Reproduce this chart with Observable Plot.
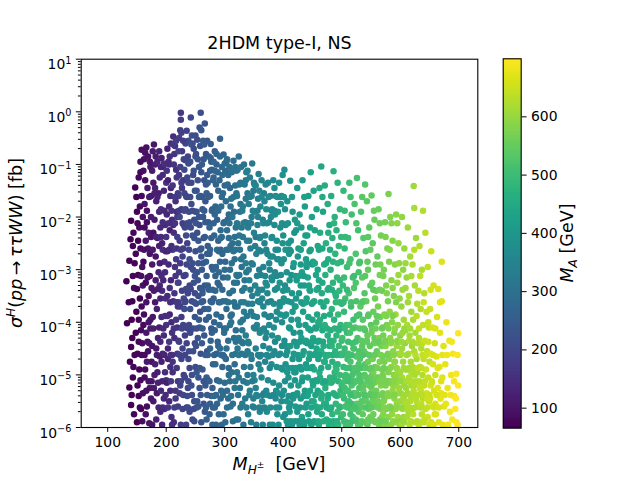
<!DOCTYPE html>
<html><head><meta charset="utf-8">
<script src="https://cdn.jsdelivr.net/npm/d3@7"></script>
<script src="https://cdn.jsdelivr.net/npm/@observablehq/plot@0.6"></script>
<style>
body{margin:0;background:#fff;}
#chart{position:relative;width:640px;height:480px;font-family:"DejaVu Sans",sans-serif;}
#chart svg{position:absolute;left:0;top:0;}
</style></head><body><div id="chart"></div>
<script>
// [M_H± (GeV), log10 σ (fb), M_A (GeV)]
const band1=[[140,-2.07,68],[137,-2.83,66],[132,-3.22,67],[133,-4.02,66],[140,-4.47,70],[137,-5.24,66],[140,-5.57,69],[143,-2.55,72],[142,-3.6,67],[144,-4.85,74],[141,-3.95,68],[144,-2.3,76],[143,-5.05,70],[145,-3.35,78],[142,-4.3,66],[145,-5.75,75],
[147,-1.44,69],[150,-1.9,66],[148,-2.7,77],[152,-3.1,71],[149,-3.8,66],[151,-4.6,80],[153,-5.4,73],[150,-5.9,67],[154,-2.2,83],[156,-1.15,75],[158,-0.72,87],[155,-3.55,69],[157,-4.15,84],[156,-5.1,76],[159,-2.95,91],[158,-1.6,80],[154,-4.9,72],[160,-3.3,95],[152,-2.45,68],[157,-5.65,85],[155,-1.8,78],[159,-4.4,89],[153,-3.95,74],[160,-2.0,93],[148,-4.2,66],[151,-5.2,70],[156,-2.6,82],[160,-5.35,88],[158,-3.7,81],
[162,-0.9,95],[164,-1.3,83],[166,-0.68,90],[163,-1.75,100],[167,-2.1,85],[165,-2.45,105],[161,-2.85,79],[168,-3.15,97],[170,-3.5,89],[162,-3.85,84],[166,-4.2,103],[169,-4.55,92],[164,-4.9,81],[172,-5.25,106],[167,-5.6,87],[171,-5.92,100],[173,-1.05,110],[174,-1.6,97],[170,-2.3,115],[172,-2.7,93],[175,-3.35,107],[173,-3.95,101],[171,-4.4,113],[175,-4.75,95],[174,-5.45,104],[163,-5.05,86],[168,-1.45,102],[165,-3.25,80],[169,-2.6,96],[161,-4.05,82],[166,-5.3,93],[174,-2.0,111],[172,-0.95,103],[163,-2.2,78],[170,-4.0,98],[167,-4.75,108],
[177,-0.75,113],[179,-0.62,105],[181,-1.0,120],[178,-1.35,103],[183,-1.7,125],[180,-2.05,111],[185,-2.4,117],[182,-2.75,100],[187,-3.05,130],[179,-3.4,109],[184,-3.75,123],[188,-4.1,114],[176,-4.45,97],[181,-4.8,118],[186,-5.15,127],[178,-5.5,104],[183,-5.85,121],[189,-1.25,135],[187,-1.55,113],[185,-0.95,132],[190,-2.2,140],[188,-2.55,116],[176,-2.9,110],[190,-3.55,133],[177,-3.9,101],[186,-4.3,124],[189,-4.65,112],[180,-5.0,122],[184,-5.35,106],[190,-5.7,137],[182,-3.2,115],[188,-1.9,128],[178,-2.3,95],[185,-4.95,119],[181,-1.45,124],[183,-4.5,107],[176,-5.95,102],[189,-3.3,131],
[192,-0.88,125],[194,-1.2,140],[196,-1.5,133],[191,-1.85,145],[198,-2.15,137],[193,-2.5,123],[197,-2.85,150],[195,-3.2,130],[199,-3.55,155],[192,-3.9,135],[196,-4.25,143],[194,-4.6,127],[198,-4.95,152],[191,-5.3,138],[197,-5.65,145],[193,-5.95,131],[200,-1.35,160],[199,-2.65,133],[195,-1.05,147],[200,-4.05,157],[192,-4.75,124],[198,-3.05,141],[194,-2.1,153],[196,-5.45,135],[200,-5.1,163],[193,-3.4,142]];
const band1x=[[136,-3.62,66],[138,-4.75,67],[139,-2.42,69],[141,-5.38,70],[143,-3.12,71],[146,-4.62,72],[146,-2.88,74],[149,-1.62,68],[150,-3.37,73],[151,-2.12,75],[153,-4.37,77],[153,-1.25,79],[155,-5.62,71],[156,-0.95,84],[157,-3.12,88],[158,-4.62,80],[159,-5.88,86],[161,-1.12,90],[162,-2.62,92],[163,-4.62,85],[164,-0.78,96],[165,-5.75,88],[166,-3.62,99],[167,-1.88,91],[168,-4.37,104],[169,-0.85,94],[170,-5.12,100],[171,-1.62,108],[172,-3.12,96],[173,-4.12,110],[174,-2.38,102],[175,-5.12,99],[176,-1.12,112],[177,-2.62,106],[178,-4.12,118],[179,-5.25,110],[180,-1.55,120],[181,-3.62,104],[182,-0.85,116],[183,-2.38,128],[184,-4.62,112],[185,-1.62,124],[186,-3.37,118],[187,-5.62,130],[188,-0.75,126],[189,-2.88,122],[190,-4.37,136],[191,-1.05,130],[192,-3.12,142],[193,-5.12,128],[194,-2.62,146],[195,-4.12,138],[196,-0.98,150],[197,-1.88,140],[198,-3.88,152],[199,-5.38,144],[200,-2.38,156],[197,-4.62,134],[194,-5.62,148],[191,-2.38,135]];
const band2=[[202,-0.7,125],[205,-1.0,138],[203,-1.3,120],[207,-1.6,145],[201,-1.95,130],[206,-2.25,118],[209,-2.55,150],[204,-2.9,135],[208,-3.2,128],[202,-3.5,142],[206,-3.85,123],[210,-4.2,155],[203,-4.5,132],[207,-4.85,146],[201,-5.15,121],[205,-5.5,139],[209,-5.8,152],[204,-0.95,143],[208,-1.45,132],[210,-2.05,148],[202,-2.65,126],[206,-3.35,154],[209,-4.0,137],[203,-4.7,129],[207,-5.3,141],[210,-5.95,158],[205,-1.8,136],[208,-0.6,140],
[212,-0.47,150],[214,-0.8,160],[217,-1.1,145],[211,-1.4,165],[216,-1.7,152],[219,-2.0,170],[213,-2.3,148],[218,-2.6,162],[215,-2.95,155],[220,-3.25,175],[212,-3.6,158],[217,-3.95,167],[214,-4.3,146],[219,-4.6,172],[211,-4.95,153],[216,-5.3,164],[220,-5.6,178],[213,-5.9,151],[218,-1.25,168],[215,-0.65,157],[220,-1.55,182],[212,-2.15,144],[217,-2.8,174],[214,-3.45,161],[219,-4.1,153],[211,-4.75,159],[216,-5.45,171],[218,-1.9,149],[213,-1.0,163],[220,-3.7,165],
[225,-0.02,170],[225,-0.15,175],[222,-0.5,180],[227,-0.75,165],[224,-1.05,188],[229,-1.3,172],[221,-1.6,185],[226,-1.85,178],[230,-2.15,195],[223,-2.45,168],[228,-2.75,190],[222,-3.05,174],[227,-3.4,186],[224,-3.7,179],[229,-4.05,198],[221,-4.35,171],[226,-4.7,192],[230,-5.0,182],[223,-5.35,176],[228,-5.65,196],[225,-5.95,184],[230,-0.9,200],[227,-1.45,174],[223,-2.0,192],[229,-2.6,180],[221,-3.25,190],[226,-3.9,172],[228,-4.5,187],[224,-5.2,194],[222,-1.2,167],[230,-3.55,202],[226,-0.4,181],
[235,-0.36,188],[233,-0.6,200],[237,-0.85,192],[231,-1.1,208],[238,-1.35,196],[234,-1.6,185],[239,-1.9,212],[232,-2.2,198],[236,-2.5,190],[240,-2.8,215],[233,-3.1,202],[237,-3.45,193],[231,-3.75,210],[239,-4.05,200],[235,-4.4,188],[238,-4.7,206],[232,-5.05,196],[236,-5.4,212],[240,-5.7,204],[234,-5.95,191],[238,-0.55,205],[231,-1.55,198],[240,-2.1,220],[235,-2.9,195],[233,-3.6,207],[239,-4.55,215],[236,-1.25,201],[232,-4.25,189],[237,-5.25,199],[234,-2.35,210],[240,-3.3,196],[233,-1.85,187],
[242,-0.11,200],[244,-0.45,212],[247,-0.7,205],[241,-0.95,218],[246,-1.2,208],[249,-1.5,222],[243,-1.75,210],[248,-2.05,204],[245,-2.35,225],[250,-2.65,215],[242,-2.95,206],[247,-3.25,220],[244,-3.6,211],[249,-3.9,228],[241,-4.2,203],[246,-4.55,218],[250,-4.85,209],[243,-5.2,224],[248,-5.5,213],[245,-5.85,207],[250,-0.85,230],[243,-1.35,204],[248,-2.4,226],[246,-3.0,212],[241,-3.75,217],[249,-4.4,206],[244,-5.0,221],[247,-5.65,210],[250,-1.9,219],[242,-2.2,208],[245,-0.6,216],[249,-3.45,205],
[253,-0.53,215],[259,-0.02,222],[257,-0.3,228],[251,-0.8,218],[256,-1.05,232],[254,-1.3,220],[259,-1.6,236],[252,-1.9,225],[257,-2.15,218],[255,-2.45,240],[260,-2.75,230],[253,-3.05,222],[258,-3.35,235],[251,-3.65,216],[256,-3.95,242],[254,-4.3,228],[259,-4.6,221],[252,-4.95,234],[257,-5.25,226],[255,-5.6,239],[260,-5.9,231],[258,-0.65,224],[252,-1.5,235],[256,-2.0,223],[260,-2.6,245],[254,-3.2,230],[258,-3.8,218],[251,-4.45,226],[255,-5.05,237],[260,-1.15,238],[253,-2.3,219],[257,-4.1,243],
[266,-0.22,232],[263,-0.55,240],[268,-0.8,235],[261,-1.0,245],[265,-1.3,230],[269,-1.55,250],[262,-1.85,238],[267,-2.1,244],[264,-2.4,232],[270,-2.7,255],[261,-3.0,240],[266,-3.3,248],[263,-3.6,234],[268,-3.95,252],[265,-4.25,241],[270,-4.55,236],[262,-4.9,250],[267,-5.2,243],[264,-5.55,231],[269,-5.85,254],[270,-1.2,248],[263,-2.0,236],[268,-2.85,260],[265,-3.75,239],[261,-4.4,245],[269,-5.05,252],[264,-0.9,242],[267,-1.7,230],[262,-3.45,258],[266,-5.7,240],
[276,-0.61,245],[273,-0.85,252],[278,-1.1,240],[271,-1.35,258],[275,-1.6,248],[279,-1.85,265],[272,-2.1,242],[277,-2.4,256],[274,-2.7,250],[280,-3.0,268],[271,-3.3,254],[276,-3.6,245],[273,-3.9,262],[278,-4.2,251],[275,-4.5,270],[280,-4.8,257],[272,-5.1,248],[277,-5.4,264],[274,-5.75,253],[279,-5.95,260],[280,-1.3,262],[274,-2.2,270],[278,-2.95,246],[272,-3.75,260],[276,-4.35,266],[279,-5.25,249],[273,-1.6,256],[277,-0.95,250],[271,-2.55,244],[275,-5.55,258],
[283,-0.75,260],[286,-1.0,255],[281,-1.25,270],[289,-1.5,262],[284,-1.8,275],[287,-2.05,258],[282,-2.35,268],[290,-2.65,278],[285,-2.95,265],[288,-3.25,272],[281,-3.55,260],[286,-3.85,280],[283,-4.15,269],[289,-4.45,257],[284,-4.8,275],[287,-5.1,266],[282,-5.4,282],[290,-5.75,271],[285,-5.95,263],[288,-1.15,276],[283,-1.95,267],[290,-3.05,285],[286,-4.6,259],[281,-0.95,272],[289,-2.45,264],[284,-3.4,278],[287,-5.55,273],[282,-4.0,266],
[292,-0.51,265],[298,-0.81,275],[295,-1.05,282],[291,-1.3,270],[297,-1.55,278],[294,-1.8,288],[299,-2.1,272],[293,-2.4,285],[296,-2.7,277],[300,-3.0,290],[291,-3.3,268],[297,-3.6,284],[294,-3.9,275],[299,-4.2,292],[292,-4.5,280],[296,-4.85,270],[300,-5.15,288],[293,-5.45,276],[298,-5.75,286],[295,-5.95,272],[300,-1.4,285],[293,-2.25,279],[297,-3.15,271],[291,-4.05,287],[299,-4.65,278],[294,-5.3,282],[296,-1.2,290],[292,-2.85,274]];
const band2x=[[201,-1.12,158],[202,-3.88,146],[203,-5.62,162],[204,-2.12,150],[205,-4.37,170],[206,-0.85,156],[207,-3.62,148],[208,-5.12,168],[209,-1.88,160],[210,-4.62,152],[211,-2.62,176],[212,-0.62,165],[213,-4.12,158],[214,-5.62,180],[215,-1.62,170],[216,-3.12,162],[217,-0.55,178],[218,-4.87,168],[219,-2.38,184],[220,-5.12,172],[221,-0.75,190],[221,-3.62,178],[222,-1.88,170],[223,-4.62,186],[224,-0.35,182],[224,-2.88,174],[225,-5.12,192],[226,-1.35,180],[227,-4.12,196],[228,-2.12,186],[229,-0.55,178],[229,-5.38,194],[230,-3.12,184],[231,-1.88,200],[232,-4.62,190],[233,-0.92,196],[234,-3.37,206],[235,-5.62,188],[236,-2.12,202],[237,-4.12,196],[238,-0.98,212],[238,-5.12,200],[239,-2.62,206],[240,-4.87,194],[241,-1.62,214],[242,-3.37,204],[243,-0.62,220],[244,-5.38,210],[245,-2.88,218],[246,-4.12,206],[247,-1.12,222],[248,-5.88,214],[249,-3.12,226],[250,-0.45,212],[251,-2.12,230],[252,-4.12,220],[253,-5.5,234],[254,-0.9,226],[255,-3.5,218],[256,-1.62,238],[257,-4.87,228],[258,-2.62,240],[259,-5.38,224],[260,-0.35,232],[260,-3.62,244],[261,-1.62,236],[262,-4.12,248],[263,-2.88,240],[264,-5.12,230],[265,-0.62,246],[266,-2.38,238],[267,-4.62,250],[268,-1.38,242],[269,-3.12,256],[270,-5.38,246],[270,-0.55,238],[271,-4.62,252],[272,-1.62,244],[273,-3.38,258],[274,-5.12,250],[275,-2.62,262],[276,-0.88,252],[277,-4.12,246],[278,-1.88,260],[279,-3.38,268],[280,-5.62,254],[281,-2.12,264],[282,-4.62,258],[283,-1.12,270],[284,-3.12,262],[285,-5.38,276],[286,-0.8,268],[287,-2.62,280],[288,-4.37,266],[289,-1.88,278],[290,-3.62,270],[291,-5.12,284],[292,-0.85,276],[293,-2.62,268],[294,-4.62,286],[295,-1.62,280],[296,-3.38,272],[297,-5.38,288],[298,-2.12,282],[299,-4.12,276],[300,-0.98,290],[215,-2.12,160],[225,-2.62,188],[235,-1.62,196],[245,-1.88,210],[255,-2.88,236],[265,-1.88,244],[275,-1.12,256],[285,-1.38,266],[295,-2.38,278],[205,-2.62,140],[218,-3.62,170],[232,-3.62,194],[248,-3.62,222],[262,-3.38,240],[278,-3.62,260],[292,-3.62,284],[208,-4.62,150],[222,-4.37,182],[237,-5.62,208],[252,-5.62,226],[268,-5.62,252],[283,-5.62,266],[297,-4.62,274]];
const band3=[[303,-0.95,278],[306,-1.2,285],[309,-1.45,272],[302,-1.7,290],[307,-1.95,280],[304,-2.25,295],[310,-2.55,282],[301,-2.85,276],[305,-3.15,292],[308,-3.45,286],[303,-3.75,278],[309,-4.05,300],[306,-4.35,288],[302,-4.7,280],[307,-5.0,295],[304,-5.3,285],[310,-5.6,298],[301,-5.9,282],[308,-1.05,294],[305,-2.05,278],[309,-3.0,290],[303,-4.5,296],[306,-5.45,279],[310,-1.8,300],[302,-3.6,284],[307,-2.4,289],[304,-0.9,286],
[315,-0.93,290],[312,-1.15,300],[318,-1.4,295],[311,-1.65,305],[316,-1.9,288],[319,-2.2,310],[313,-2.5,298],[317,-2.8,292],[320,-3.1,308],[314,-3.4,302],[318,-3.7,290],[311,-4.0,312],[316,-4.3,296],[319,-4.6,305],[312,-4.95,299],[317,-5.25,315],[314,-5.55,293],[320,-5.85,307],[318,-1.05,302],[313,-2.0,315],[316,-3.25,300],[319,-4.15,292],[311,-5.4,308],[315,-2.65,310],[320,-1.55,297],[312,-3.85,303],[317,-4.8,288],
[324,-0.85,300],[322,-1.1,312],[327,-1.35,305],[321,-1.6,318],[326,-1.9,300],[329,-2.2,322],[323,-2.5,310],[328,-2.8,304],[325,-3.1,320],[330,-3.4,312],[322,-3.7,301],[327,-4.0,325],[324,-4.3,315],[329,-4.6,306],[321,-4.95,318],[326,-5.25,310],[330,-5.55,328],[323,-5.85,303],[328,-1.05,316],[325,-2.35,322],[321,-3.25,307],[330,-4.15,319],[324,-5.05,312],[327,-1.75,309],[322,-4.5,324],[329,-2.95,301],
[333,-1.0,310],[336,-1.3,322],[339,-1.55,315],[331,-1.8,328],[335,-2.1,312],[338,-2.45,332],[332,-2.75,320],[337,-3.05,314],[334,-3.35,330],[340,-3.65,322],[331,-3.95,312],[336,-4.25,335],[339,-4.55,325],[333,-4.85,318],[338,-5.15,332],[335,-5.45,322],[340,-5.75,338],[332,-5.95,315],[337,-1.15,326],[340,-2.2,334],[334,-3.2,318],[331,-4.4,328],[339,-5.0,320],[336,-1.65,318],[333,-3.8,332],
[347,-0.98,325],[343,-1.25,332],[349,-1.5,320],[341,-1.75,338],[346,-2.0,328],[350,-2.3,342],[344,-2.6,330],[348,-2.9,324],[342,-3.2,340],[347,-3.5,332],[345,-3.8,326],[350,-4.1,348],[341,-4.4,335],[346,-4.7,328],[349,-5.0,344],[343,-5.3,333],[348,-5.6,326],[345,-5.9,340],[350,-1.35,338],[342,-2.45,324],[347,-3.65,342],[344,-4.85,330],[349,-5.45,336],[341,-3.0,330],[346,-1.6,332],
[358,-1.18,338],[353,-1.4,345],[357,-1.65,332],[351,-1.9,350],[356,-2.15,340],[360,-2.4,355],[354,-2.7,344],[359,-3.0,336],[352,-3.3,352],[357,-3.6,342],[355,-3.9,334],[360,-4.2,358],[353,-4.5,346],[358,-4.8,338],[351,-5.1,354],[356,-5.4,344],[360,-5.7,350],[354,-5.95,336],[359,-1.5,352],[352,-2.55,338],[356,-3.45,356],[360,-4.65,340],[353,-5.25,348],[357,-2.0,344],[355,-4.05,352],
[363,-1.3,350],[367,-1.55,342],[361,-1.8,358],[365,-2.05,348],[369,-2.35,362],[362,-2.65,352],[366,-2.95,344],[370,-3.25,365],[364,-3.55,355],[368,-3.85,348],[361,-4.15,360],[366,-4.45,352],[369,-4.75,345],[363,-5.05,362],[367,-5.35,354],[370,-5.65,368],[365,-5.95,350],[368,-1.7,356],[362,-3.1,346],[366,-3.7,364],[370,-4.3,352],[364,-5.5,358],[368,-2.5,350],[361,-4.9,356],
[374,-1.35,360],[378,-1.6,352],[371,-1.85,368],[376,-2.1,356],[380,-2.4,372],[373,-2.7,362],[377,-3.0,354],[372,-3.3,370],[379,-3.6,360],[375,-3.9,352],[371,-4.2,366],[376,-4.5,358],[380,-4.8,374],[374,-5.1,364],[378,-5.4,356],[372,-5.7,370],[377,-5.95,362],[379,-2.0,364],[373,-3.45,358],[376,-4.05,372],[371,-5.3,360],[378,-2.75,368],[375,-4.65,355],[380,-3.15,362],
[383,-1.3,370],[387,-1.6,362],[381,-1.85,375],[385,-2.15,368],[389,-2.45,380],[382,-2.75,370],[386,-3.05,364],[390,-3.35,378],[384,-3.65,370],[388,-3.95,362],[381,-4.25,376],[385,-4.55,368],[389,-4.85,382],[383,-5.15,372],[387,-5.45,365],[390,-5.75,378],[382,-5.95,370],[386,-1.95,374],[390,-2.8,366],[384,-4.1,380],[388,-5.3,372],[381,-3.2,368],[385,-1.45,375],[389,-3.8,376],
[393,-1.35,380],[397,-1.6,372],[391,-1.9,385],[395,-2.2,378],[399,-2.5,390],[392,-2.8,380],[396,-3.1,374],[400,-3.4,388],[394,-3.7,380],[398,-4.0,372],[391,-4.3,386],[395,-4.6,378],[399,-4.9,392],[393,-5.2,382],[397,-5.5,374],[400,-5.8,388],[392,-5.95,380],[396,-1.75,386],[400,-2.35,378],[394,-3.25,384],[398,-4.45,376],[391,-5.35,388],[395,-3.85,381],[399,-1.2,386]];
const band3x=[[301,-1.12,282],[302,-4.12,290],[303,-2.62,280],[304,-5.62,296],[305,-1.38,288],[306,-3.62,298],[307,-4.87,284],[308,-2.12,300],[309,-5.12,292],[310,-3.88,288],[311,-1.12,302],[312,-2.88,296],[313,-4.62,306],[314,-5.88,298],[315,-1.62,310],[316,-3.62,304],[317,-2.38,298],[318,-5.12,312],[319,-4.37,302],[320,-1.12,306],[321,-2.12,316],[322,-3.12,310],[323,-5.38,304],[324,-4.62,320],[325,-1.38,314],[326,-2.62,306],[327,-5.62,322],[328,-3.62,316],[329,-4.37,310],[330,-1.88,326],[331,-2.38,318],[332,-5.12,312],[333,-3.62,330],[334,-1.38,322],[335,-4.62,316],[336,-2.88,332],[337,-5.62,324],[338,-3.88,318],[339,-1.12,334],[340,-4.37,326],[341,-2.12,320],[342,-5.38,336],[343,-1.62,328],[344,-3.38,322],[345,-4.62,338],[346,-2.88,330],[347,-5.12,324],[348,-1.88,340],[349,-3.88,334],[350,-5.62,328],[351,-1.38,344],[352,-4.12,336],[353,-2.38,330],[354,-5.38,346],[355,-3.12,340],[356,-1.88,334],[357,-4.62,350],[358,-2.62,342],[359,-5.62,336],[360,-3.62,352],[361,-2.38,346],[362,-4.62,340],[363,-1.62,356],[364,-3.38,348],[365,-5.38,342],[366,-2.12,358],[367,-4.12,352],[368,-5.62,346],[369,-3.12,362],[370,-1.38,354],[371,-2.62,348],[372,-4.62,364],[373,-5.38,358],[374,-3.62,352],[375,-1.62,366],[376,-2.88,360],[377,-4.87,354],[378,-5.62,368],[379,-3.88,362],[380,-1.88,356],[381,-2.38,372],[382,-4.62,364],[383,-5.38,358],[384,-3.12,374],[385,-1.88,368],[386,-4.37,362],[387,-2.62,376],[388,-5.62,370],[389,-3.12,364],[390,-1.62,378],[391,-2.62,372],[392,-4.62,366],[393,-5.62,382],[394,-3.62,376],[395,-1.62,370],[396,-4.87,384],[397,-2.88,378],[398,-5.38,372],[399,-3.62,386],[400,-1.62,380],[306,-2.62,292],[318,-2.62,300],[332,-2.12,326],[345,-2.12,334],[358,-3.38,346],[372,-2.12,356],[386,-3.38,370],[398,-2.12,384]];
const band4=[[402,-1.1,380],[407,-1.7,387],[404,-2.15,375],[409,-2.5,393],[401,-2.8,383],[406,-3.05,390],[403,-3.3,377],[408,-3.6,395],[405,-3.85,385],[410,-4.1,400],[402,-4.35,381],[407,-4.55,393],[404,-4.8,387],[409,-5.05,397],[401,-5.3,383],[406,-5.5,391],[403,-5.75,379],[408,-5.95,395],[410,-2.7,389],[405,-4.45,384],[401,-3.55,392],[409,-5.4,386],[403,-1.85,382],[407,-4.95,398],
[412,-1.31,387],[416,-1.9,395],[419,-2.3,383],[413,-2.65,400],[417,-2.95,391],[411,-3.2,403],[415,-3.45,393],[420,-3.7,405],[414,-3.95,395],[418,-4.2,387],[412,-4.45,407],[416,-4.7,399],[419,-4.95,391],[413,-5.2,403],[417,-5.45,395],[411,-5.7,410],[415,-5.95,397],[420,-2.05,401],[414,-3.1,389],[418,-4.6,405],[412,-5.55,393],[416,-3.8,401],[420,-5.1,399],[413,-2.45,393],
[424,-1.45,400],[428,-1.95,407],[422,-2.25,395],[426,-2.6,413],[430,-2.9,403],[423,-3.2,410],[427,-3.45,399],[421,-3.7,415],[425,-3.95,405],[429,-4.2,397],[423,-4.45,413],[427,-4.7,407],[421,-4.95,401],[426,-5.2,417],[430,-5.45,409],[424,-5.7,401],[428,-5.95,415],[422,-3.55,403],[429,-4.85,411],[425,-2.75,399],[421,-5.6,407],[427,-4.05,413],[430,-3.3,405],[424,-5.35,396],
[433,-1.3,410],[437,-1.8,417],[431,-2.2,405],[435,-2.5,423],[439,-2.8,413],[432,-3.05,420],[436,-3.3,410],[440,-3.55,425],[434,-3.8,415],[438,-4.05,407],[431,-4.3,423],[435,-4.55,415],[439,-4.8,409],[433,-5.05,427],[437,-5.3,417],[440,-5.55,411],[432,-5.8,423],[436,-5.95,413],[438,-2.35,419],[434,-3.65,425],[431,-4.9,413],[439,-4.35,421],[435,-5.4,417],[440,-2.95,407],
[447,-1.15,423],[443,-1.6,415],[449,-2.0,430],[441,-2.35,420],[445,-2.65,427],[450,-2.9,417],[442,-3.15,433],[446,-3.4,423],[449,-3.65,415],[443,-3.9,430],[447,-4.15,423],[441,-4.4,417],[445,-4.6,433],[450,-4.85,425],[442,-5.05,419],[446,-5.3,435],[449,-5.5,427],[443,-5.75,421],[448,-5.95,431],[444,-4.7,425],[450,-3.95,437],[441,-5.4,420],[446,-2.2,425],[448,-4.45,417],[444,-3.3,431],
[452,-1.5,430],[457,-1.85,437],[454,-2.25,425],[459,-2.55,443],[451,-2.85,433],[456,-3.1,440],[460,-3.35,430],[453,-3.6,447],[458,-3.85,437],[455,-4.1,431],[451,-4.3,445],[457,-4.5,439],[460,-4.7,433],[453,-4.9,449],[456,-5.1,441],[459,-5.3,435],[452,-5.5,447],[458,-5.7,439],[454,-5.9,433],[460,-4.0,445],[455,-4.6,439],[451,-5.2,435],[459,-3.0,441],[456,-5.6,449],[453,-4.35,437],
[465,-1.04,443],[462,-1.45,450],[468,-1.9,437],[463,-2.3,453],[467,-2.6,445],[470,-2.9,457],[461,-3.2,447],[466,-3.45,453],[469,-3.7,443],[463,-3.95,460],[467,-4.15,450],[461,-4.35,445],[465,-4.55,457],[470,-4.75,451],[462,-4.95,463],[468,-5.15,453],[464,-5.35,447],[470,-5.55,459],[466,-5.75,453],[461,-5.95,447],[469,-4.45,461],[463,-5.05,455],[467,-3.25,449],[465,-5.45,463],[462,-4.05,453],
[471,-1.4,455],[476,-1.75,463],[479,-2.15,450],[473,-2.5,467],[477,-2.8,460],[472,-3.1,470],[478,-3.35,457],[474,-3.6,465],[480,-3.85,460],[471,-4.05,471],[476,-4.25,463],[479,-4.45,455],[473,-4.65,469],[477,-4.85,461],[480,-5.05,475],[472,-5.25,465],[476,-5.45,459],[479,-5.65,470],[474,-5.85,463],[478,-5.95,467],[471,-4.75,457],[475,-5.15,471],[480,-4.35,465],[473,-5.55,461],[477,-2.3,458],
[486,-1.13,467],[482,-1.6,460],[488,-2.0,473],[484,-2.4,465],[489,-2.7,477],[481,-3.0,467],[485,-3.25,475],[490,-3.5,470],[483,-3.75,480],[487,-3.95,473],[481,-4.15,465],[486,-4.35,481],[489,-4.55,475],[484,-4.75,469],[488,-4.95,483],[482,-5.15,475],[486,-5.35,469],[490,-5.55,483],[484,-5.75,477],[488,-5.95,471],[483,-4.45,479],[487,-5.05,473],[490,-4.85,485],[481,-5.65,467],[485,-2.85,471],[489,-3.45,475],
[493,-1.35,475],[497,-1.85,483],[491,-2.25,470],[495,-2.55,487],[499,-2.85,480],[492,-3.15,490],[496,-3.4,483],[500,-3.65,475],[494,-3.85,491],[498,-4.05,485],[491,-4.25,479],[495,-4.45,493],[499,-4.6,485],[493,-4.8,479],[497,-5.0,495],[500,-5.2,487],[492,-5.4,481],[496,-5.6,495],[499,-5.8,489],[494,-5.95,483],[491,-4.9,491],[498,-5.3,483],[495,-4.15,477],[493,-5.7,493],[497,-3.2,487],[500,-4.35,497]];
const band4x=[[401,-1.62,384],[402,-3.88,392],[403,-5.12,380],[404,-2.62,396],[405,-4.62,388],[406,-5.88,400],[407,-3.38,392],[408,-2.12,386],[409,-4.87,402],[410,-5.62,394],[411,-2.62,388],[412,-4.12,404],[413,-5.88,398],[414,-3.62,392],[415,-1.62,406],[416,-4.87,400],[417,-5.38,394],[418,-2.88,410],[419,-4.37,402],[420,-5.88,396],[421,-3.12,412],[422,-4.87,406],[423,-5.38,400],[424,-2.12,414],[425,-4.62,408],[426,-5.88,402],[427,-3.12,418],[428,-4.37,410],[429,-5.62,404],[430,-2.62,420],[431,-3.62,414],[432,-5.12,408],[433,-4.62,424],[434,-5.88,416],[435,-3.12,410],[436,-1.62,426],[437,-4.37,420],[438,-5.62,414],[439,-3.62,430],[440,-4.87,422],[441,-2.88,416],[442,-5.38,432],[443,-4.12,426],[444,-5.88,420],[445,-3.38,434],[446,-4.87,428],[447,-2.62,422],[448,-5.62,438],[449,-4.37,430],[450,-5.12,424],[451,-3.62,440],[452,-4.62,434],[453,-5.88,428],[454,-2.88,444],[455,-5.38,436],[456,-4.12,430],[457,-3.38,446],[458,-5.12,440],[459,-4.37,434],[460,-5.88,450],[461,-2.62,442],[462,-4.62,436],[463,-5.62,452],[464,-3.62,446],[465,-4.87,440],[466,-5.38,456],[467,-1.62,448],[468,-4.37,442],[469,-5.88,458],[470,-3.88,450],[471,-5.12,444],[472,-4.62,460],[473,-2.88,454],[474,-5.62,448],[475,-4.12,464],[476,-3.38,456],[477,-5.38,450],[478,-4.62,466],[479,-5.88,460],[480,-2.62,454],[481,-4.37,470],[482,-5.62,464],[483,-3.38,458],[484,-5.12,474],[485,-4.62,466],[486,-5.88,460],[487,-2.12,476],[488,-4.12,470],[489,-5.38,464],[490,-3.62,480],[491,-4.62,474],[492,-5.88,468],[493,-2.88,484],[494,-5.12,476],[495,-4.12,470],[496,-3.62,486],[497,-5.62,480],[498,-4.62,474],[499,-2.38,490],[500,-5.38,482]];
const band5=[[503,-1.5,490],[507,-2.1,498],[505,-2.6,488],[509,-2.95,502],[502,-3.3,494],[506,-3.55,506],[504,-3.8,492],[508,-4.05,500],[501,-4.3,508],[505,-4.5,496],[510,-4.7,504],[503,-4.85,490],[507,-5.0,510],[501,-5.15,500],[509,-5.3,506],[504,-5.45,494],[506,-5.6,512],[502,-5.75,502],[508,-5.9,496],[510,-5.55,510],[505,-5.25,504],[503,-4.6,498],[507,-5.95,508],[509,-4.2,492],[504,-3.15,500],[506,-5.05,506],
[513,-1.35,500],[517,-1.95,508],[511,-2.4,496],[515,-2.8,512],[519,-3.15,504],[512,-3.45,516],[516,-3.7,506],[520,-3.95,500],[514,-4.2,516],[518,-4.4,510],[511,-4.6,504],[515,-4.75,520],[519,-4.9,512],[513,-5.05,506],[517,-5.2,522],[520,-5.35,514],[512,-5.5,508],[516,-5.65,522],[519,-5.8,516],[514,-5.95,510],[518,-5.0,518],[511,-5.3,512],[515,-5.75,504],[520,-4.5,520],[513,-4.05,510],[517,-5.55,502],
[526,-1.26,512],[522,-1.75,520],[528,-2.25,508],[524,-2.7,525],[529,-3.05,516],[521,-3.35,528],[525,-3.6,520],[530,-3.85,512],[523,-4.1,530],[527,-4.3,522],[521,-4.5,516],[525,-4.65,532],[529,-4.8,524],[523,-4.95,518],[527,-5.1,534],[530,-5.25,526],[522,-5.4,520],[526,-5.55,534],[529,-5.7,528],[524,-5.85,522],[528,-5.95,536],[521,-5.15,526],[525,-5.35,532],[530,-4.55,520],[523,-5.65,530],[527,-4.9,516],[524,-3.25,526],
[540,-1.38,530],[533,-1.9,522],[537,-2.4,535],[531,-2.85,526],[535,-3.15,538],[539,-3.45,530],[532,-3.7,542],[536,-3.95,534],[540,-4.15,526],[534,-4.35,542],[538,-4.55,534],[531,-4.7,528],[535,-4.85,544],[539,-5.0,536],[533,-5.15,530],[537,-5.3,546],[540,-5.45,538],[532,-5.6,532],[536,-5.75,546],[539,-5.9,540],[534,-5.5,534],[538,-5.2,542],[531,-5.95,536],[535,-4.45,540],[537,-3.6,530],[533,-5.05,548],[540,-4.8,532],
[543,-1.7,535],[547,-2.2,542],[541,-2.65,530],[545,-3.0,546],[549,-3.3,538],[542,-3.6,550],[546,-3.85,542],[550,-4.05,536],[544,-4.25,552],[548,-4.45,544],[541,-4.6,538],[545,-4.75,554],[549,-4.9,546],[543,-5.05,540],[547,-5.2,556],[550,-5.35,548],[542,-5.5,542],[546,-5.65,556],[549,-5.8,550],[544,-5.95,544],[548,-5.1,552],[541,-5.4,546],[545,-5.85,558],[550,-4.65,542],[543,-4.35,548],[547,-5.55,540],[544,-2.85,545],
[551,-1.59,545],[556,-2.05,552],[553,-2.5,540],[558,-2.9,556],[552,-3.25,548],[557,-3.55,560],[554,-3.8,552],[559,-4.0,544],[551,-4.2,560],[555,-4.4,554],[560,-4.55,548],[553,-4.7,564],[557,-4.85,556],[552,-5.0,550],[556,-5.15,566],[559,-5.3,558],[553,-5.45,552],[557,-5.6,566],[554,-5.75,560],[558,-5.9,554],[551,-5.25,562],[555,-5.55,556],[560,-5.05,564],[552,-5.85,558],[556,-4.3,550],[559,-3.4,558],[554,-4.95,568],
[563,-1.85,555],[567,-2.35,562],[561,-2.75,550],[565,-3.1,566],[569,-3.4,558],[562,-3.7,570],[566,-3.9,562],[570,-4.1,556],[564,-4.3,572],[568,-4.45,564],[561,-4.6,558],[565,-4.75,574],[569,-4.9,566],[563,-5.05,560],[567,-5.2,576],[570,-5.35,568],[562,-5.5,562],[566,-5.65,576],[569,-5.8,570],[564,-5.95,564],[568,-5.1,572],[561,-5.4,566],[565,-5.85,578],[570,-4.65,560],[563,-4.4,570],[567,-5.55,564],[566,-2.9,568],
[580,-1.56,572],[574,-2.1,565],[578,-2.6,575],[572,-3.0,568],[576,-3.3,578],[579,-3.6,570],[573,-3.85,580],[577,-4.05,572],[571,-4.25,566],[575,-4.45,582],[579,-4.6,574],[573,-4.75,568],[577,-4.9,584],[571,-5.05,576],[575,-5.2,570],[579,-5.35,586],[572,-5.5,578],[576,-5.65,572],[580,-5.8,586],[574,-5.95,580],[578,-5.15,574],[571,-5.75,582],[575,-4.35,576],[580,-4.95,580],[573,-5.45,572],[577,-3.45,578],
[583,-2.0,578],[587,-2.45,585],[581,-2.85,574],[585,-3.2,588],[589,-3.5,580],[582,-3.8,592],[586,-4.0,584],[590,-4.2,578],[584,-4.4,594],[588,-4.55,586],[581,-4.7,580],[585,-4.85,596],[589,-5.0,588],[583,-5.15,582],[587,-5.3,598],[590,-5.45,590],[582,-5.6,584],[586,-5.75,598],[589,-5.9,592],[584,-5.95,586],[588,-5.2,594],[581,-5.4,588],[585,-5.65,580],[590,-4.75,596],[583,-4.3,590],[587,-3.35,584],
[593,-1.95,588],[597,-2.5,596],[591,-2.9,584],[595,-3.25,600],[599,-3.55,592],[592,-3.85,604],[596,-4.05,596],[600,-4.25,590],[594,-4.45,606],[598,-4.6,598],[591,-4.75,592],[595,-4.9,608],[599,-5.05,600],[593,-5.2,594],[597,-5.35,610],[600,-5.5,602],[592,-5.65,596],[596,-5.8,610],[599,-5.95,604],[594,-5.55,600],[598,-5.25,606],[591,-5.9,598],[595,-4.35,602],[600,-4.95,608],[593,-5.0,596],[597,-3.1,604]];
const band5x=[[501,-4.62,492],[502,-5.38,500],[503,-3.62,488],[504,-5.88,504],[505,-4.12,496],[506,-2.38,490],[507,-5.12,508],[508,-4.87,500],[509,-3.38,494],[510,-5.62,510],[511,-4.37,502],[512,-5.12,496],[513,-2.88,512],[514,-4.87,506],[515,-5.38,500],[516,-3.62,516],[517,-4.62,508],[518,-5.88,502],[519,-4.12,518],[520,-5.12,512],[521,-3.12,506],[522,-4.87,522],[523,-5.62,516],[524,-4.37,510],[525,-5.12,526],[526,-3.88,518],[527,-5.88,512],[528,-4.62,528],[529,-5.38,522],[530,-2.88,516],[531,-4.12,532],[532,-5.12,526],[533,-4.87,520],[534,-5.88,536],[535,-3.62,528],[536,-4.62,522],[537,-5.62,538],[538,-4.12,532],[539,-5.38,526],[540,-3.12,540],[541,-4.87,534],[542,-5.62,528],[543,-4.37,544],[544,-5.12,538],[545,-3.88,532],[546,-5.88,548],[547,-4.62,540],[548,-5.38,534],[549,-2.62,550],[550,-4.87,544],[551,-5.62,538],[552,-4.12,554],[553,-5.12,548],[554,-3.38,542],[555,-5.88,558],[556,-4.62,550],[557,-5.38,544],[558,-4.12,560],[559,-5.12,554],[560,-3.88,548],[561,-4.87,564],[562,-5.62,556],[563,-4.37,550],[564,-5.12,566],[565,-3.38,560],[566,-5.88,554],[567,-4.62,570],[568,-5.38,562],[569,-4.12,556],[570,-5.12,572],[571,-3.12,566],[572,-4.87,560],[573,-5.62,576],[574,-4.37,568],[575,-5.88,562],[576,-3.88,578],[577,-5.12,572],[578,-4.62,566],[579,-5.38,582],[580,-4.12,574],[581,-5.12,568],[582,-2.62,584],[583,-4.87,578],[584,-5.62,572],[585,-4.37,588],[586,-5.12,580],[587,-3.88,574],[588,-5.88,590],[589,-4.62,584],[590,-5.38,578],[591,-4.12,594],[592,-5.12,586],[593,-3.62,580],[594,-4.87,596],[595,-5.62,590],[596,-4.37,584],[597,-5.12,600],[598,-2.88,592],[599,-5.88,586],[600,-4.62,602],[505,-1.88,494],[515,-1.62,508],[525,-2.12,520],[535,-1.62,532],[545,-2.38,540],[555,-1.88,552],[565,-2.12,560],[575,-2.38,574],[585,-2.12,582],[595,-2.12,592],[510,-5.05,506],[530,-5.0,524],[550,-5.2,546],[570,-5.0,566],[590,-5.1,588]];
const band6=[[603,-2.0,595],[607,-2.6,603],[605,-3.0,591],[609,-3.35,607],[602,-3.7,599],[606,-3.95,611],[604,-4.2,603],[608,-4.4,595],[601,-4.6,611],[605,-4.75,605],[610,-4.9,599],[603,-5.05,615],[607,-5.2,607],[601,-5.35,601],[609,-5.5,617],[604,-5.65,609],[606,-5.8,603],[602,-5.95,617],[608,-5.6,611],[610,-5.25,605],[605,-5.45,613],[603,-4.5,607],[607,-5.9,615],[609,-4.15,601],
[613,-2.2,605],[617,-2.75,613],[611,-3.15,601],[615,-3.5,617],[619,-3.8,609],[612,-4.05,621],[616,-4.25,613],[620,-4.45,607],[614,-4.6,623],[618,-4.75,615],[611,-4.9,609],[615,-5.05,625],[619,-5.2,617],[613,-5.35,611],[617,-5.5,627],[620,-5.65,619],[612,-5.8,613],[616,-5.95,627],[618,-5.4,621],[614,-5.7,615],[611,-5.55,623],[619,-4.95,625],[615,-4.35,619],
[623,-1.41,610],[624,-1.83,617],[627,-2.4,605],[621,-2.9,621],[625,-3.3,613],[629,-3.65,625],[622,-3.95,617],[626,-4.2,611],[630,-4.4,627],[624,-4.55,619],[628,-4.7,613],[621,-4.85,629],[625,-5.0,621],[629,-5.15,615],[623,-5.3,631],[627,-5.45,623],[630,-5.6,617],[622,-5.75,631],[626,-5.9,625],[628,-5.5,629],[624,-5.2,623],[621,-5.65,627],[629,-4.95,619],
[639,-1.88,623],[633,-2.55,630],[637,-3.0,618],[631,-3.4,634],[635,-3.75,626],[639,-4.05,638],[632,-4.3,630],[636,-4.5,624],[640,-4.7,640],[634,-4.85,632],[638,-5.0,626],[631,-5.15,642],[635,-5.3,634],[639,-5.45,628],[633,-5.6,644],[637,-5.75,636],[640,-5.9,630],[632,-5.95,642],[636,-5.55,638],[634,-5.25,644],[638,-4.4,634],
[643,-2.3,634],[647,-2.95,642],[641,-3.45,630],[645,-3.8,646],[649,-4.1,638],[642,-4.35,650],[646,-4.55,642],[650,-4.75,636],[644,-4.9,652],[648,-5.05,644],[641,-5.2,638],[645,-5.35,654],[649,-5.5,646],[643,-5.65,640],[647,-5.8,654],[650,-5.95,648],[642,-5.85,642],[646,-5.45,650],[648,-4.0,646],
[653,-2.65,650],[657,-3.3,658],[651,-3.75,646],[655,-4.1,660],[659,-4.4,654],[652,-4.6,662],[656,-4.8,656],[660,-5.0,650],[654,-5.15,664],[658,-5.3,658],[651,-5.45,652],[655,-5.6,664],[659,-5.75,660],[653,-5.9,656],[657,-5.95,664],[660,-5.55,662],[652,-5.2,658],
[671,-2.85,668],[665,-3.37,664],[671,-3.6,670],[663,-3.9,662],[668,-4.2,672],[674,-4.45,668],[662,-4.65,666],[667,-4.85,674],[672,-5.05,670],[664,-5.25,668],[669,-5.45,674],[675,-5.6,672],[661,-5.75,666],[666,-5.9,672],[673,-5.95,676],[670,-5.35,670],
[679,-4.0,680],[684,-4.35,684],[690,-4.6,690],[699,-4.21,698],[677,-4.8,676],[687,-5.0,686],[696,-4.98,694],[681,-5.25,682],[699,-5.2,699],[692,-5.4,692],[678,-5.55,678],[685,-5.7,686],[696,-5.9,697],[689,-5.85,690],[682,-5.95,684],[694,-5.65,695],[698,-5.95,699]];
const band6x=[[601,-5.12,596],[602,-4.37,604],[603,-5.62,598],[604,-3.38,606],[605,-5.88,600],[606,-4.87,610],[607,-4.12,602],[608,-5.38,612],[609,-2.88,606],[610,-5.12,616],[611,-4.62,608],[612,-5.62,618],[613,-3.62,610],[614,-5.12,620],[615,-4.87,612],[616,-5.62,622],[617,-4.12,614],[618,-5.88,624],[619,-3.12,616],[620,-5.12,626],[621,-4.37,618],[622,-5.38,628],[623,-4.87,620],[624,-2.62,630],[625,-5.62,622],[626,-4.62,632],[627,-5.12,624],[628,-3.88,634],[629,-5.88,626],[630,-4.87,636],[631,-5.38,628],[632,-4.12,638],[633,-5.12,630],[634,-3.12,640],[635,-5.62,632],[636,-4.87,642],[637,-5.38,634],[638,-4.62,644],[639,-5.88,636],[640,-3.62,646],[642,-5.12,640],[644,-4.62,650],[646,-5.62,642],[648,-4.37,652],[650,-5.38,646],[652,-3.38,656],[654,-5.12,650],[656,-4.62,660],[658,-5.62,654],[660,-4.12,664],[662,-5.38,658],[664,-4.87,668],[666,-5.62,662],[668,-3.62,672],[670,-5.12,666],[672,-4.62,676],[676,-5.38,672],[680,-4.62,680],[686,-5.38,686],[692,-5.12,692],[698,-4.62,698],[688,-4.37,688],[695,-5.45,696]];

const xTicks=[100,200,300,400,500,600,700];
const yTicks=[1e-6,1e-5,1e-4,1e-3,1e-2,1e-1,1e0,1e1];
const cTicks=[100,200,300,400,500,600];
const title="2HDM type-I, NS";
const colorDomain=[65.6,699.6];

const points=[...band1,...band1x,...band2,...band2x,...band3,...band3x,...band4,...band4x,...band5,...band5x,...band6,...band6x]
  .map(([m,lg,a])=>({mH:m,sigma:10**lg,mA:a}));
const yMinor=yTicks.slice(0,-1).flatMap(t=>[2,3,4,5,6,7,8,9].map(k=>k*t));
const FONT='"DejaVu Sans", sans-serif';

const main=Plot.plot({
  width:640,height:480,
  marginLeft:80.7,marginRight:162.7,marginTop:58.7,marginBottom:53,
  style:{fontFamily:FONT,fontSize:"13.9px",background:"transparent",color:"#000"},
  x:{domain:[54.7,732.6]},
  y:{type:"log",domain:[1e-6,10]},
  color:{type:"linear",scheme:"viridis",domain:colorDomain},
  marks:[
    Plot.dot(points,{x:"mH",y:"sigma",fill:"mA",r:3.25,clip:true}),
    Plot.axisX({ticks:xTicks,tickSize:4.9,tickPadding:4.9,label:null,tickFormat:d=>String(d)}),
    Plot.axisY({ticks:yMinor,tickSize:2.8,tickFormat:()=>"",label:null}),
    Plot.axisY({ticks:yTicks,tickSize:4.9,tickPadding:4.9,label:null,tickFormat:d=>"10^"+Math.round(Math.log10(d))}),
    Plot.frame({stroke:"#000",strokeWidth:1.1}),
    Plot.text([title],{text:d=>d,frameAnchor:"top",lineAnchor:"middle",dy:-15.7,fontSize:17.5,fill:"#000"})
  ]
});

const steps=d3.range(0,240).map(i=>{
  const a=colorDomain[0]+(colorDomain[1]-colorDomain[0])*i/240;
  const b=colorDomain[0]+(colorDomain[1]-colorDomain[0])*(i+1)/240;
  return {y1:a,y2:b,v:(a+b)/2};
});
const cbar=Plot.plot({
  width:640,height:480,
  marginLeft:502.7,marginRight:119.3,marginTop:58.3,marginBottom:52.3,
  style:{fontFamily:FONT,fontSize:"13.9px",background:"transparent",color:"#000"},
  x:{domain:[0,1],axis:null},
  y:{domain:colorDomain},
  color:{type:"linear",scheme:"viridis",domain:colorDomain},
  marks:[
    Plot.rect(steps,{x1:0,x2:1,y1:"y1",y2:"y2",fill:"v",shapeRendering:"crispEdges"}),
    Plot.axisY({anchor:"right",ticks:cTicks,tickSize:4.9,tickPadding:4.9,label:null}),
    Plot.frame({stroke:"#000",strokeWidth:1.1})
  ]
});

const root=document.getElementById("chart");
root.appendChild(main);
root.appendChild(cbar);

const svg=d3.select(main);
svg.selectAll('g[aria-label="y-axis tick label"] text').each(function(){
  const t=d3.select(this);const s=t.text();
  if(!s||s.indexOf("^")<0)return;
  const e=s.split("^")[1].replace("-","\u2212");
  t.text(null).attr("dy","0.4em");
  t.append("tspan").text("10");
  t.append("tspan").attr("font-size",9.7).attr("dy",-5.5).text(e);
});

// x label: M_{H^±} [GeV]
const xl=svg.append("text").attr("x",279).attr("y",470).attr("text-anchor","middle")
  .attr("font-size",17.5).attr("fill","#000").style("font-family",FONT);
xl.append("tspan").attr("font-style","italic").text("M");
xl.append("tspan").attr("font-style","italic").attr("font-size",12.2).attr("dy",3.5).text("H");
xl.append("tspan").attr("font-size",9).attr("dy",-6).text("\u00b1");
xl.append("tspan").attr("dy",2.5).text("\u00a0\u00a0[GeV]");

// y label: σ^H(pp → ττWW) [fb]
const yl=svg.append("text").attr("transform","translate(22,243) rotate(-90)").attr("text-anchor","middle")
  .attr("font-size",17.5).attr("fill","#000").style("font-family",FONT);
yl.append("tspan").attr("font-style","italic").text("\u03c3");
yl.append("tspan").attr("font-style","italic").attr("font-size",12.2).attr("dy",-7).text("H");
yl.append("tspan").attr("dy",7).text("(");
yl.append("tspan").attr("font-style","italic").text("pp");
yl.append("tspan").text("\u2009\u2192\u2009");
yl.append("tspan").attr("font-style","italic").text("\u03c4\u03c4WW");
yl.append("tspan").text(")\u00a0[fb]");

// colorbar label: M_A [GeV]
const cs=d3.select(cbar);
const cl=cs.append("text").attr("transform","translate(573,243) rotate(-90)").attr("text-anchor","middle")
  .attr("font-size",17.5).attr("fill","#000").style("font-family",FONT);
cl.append("tspan").attr("font-style","italic").text("M");
cl.append("tspan").attr("font-style","italic").attr("font-size",12.2).attr("dy",3.5).text("A");
cl.append("tspan").attr("dy",-3.5).text("\u00a0[GeV]");
</script></body></html>
